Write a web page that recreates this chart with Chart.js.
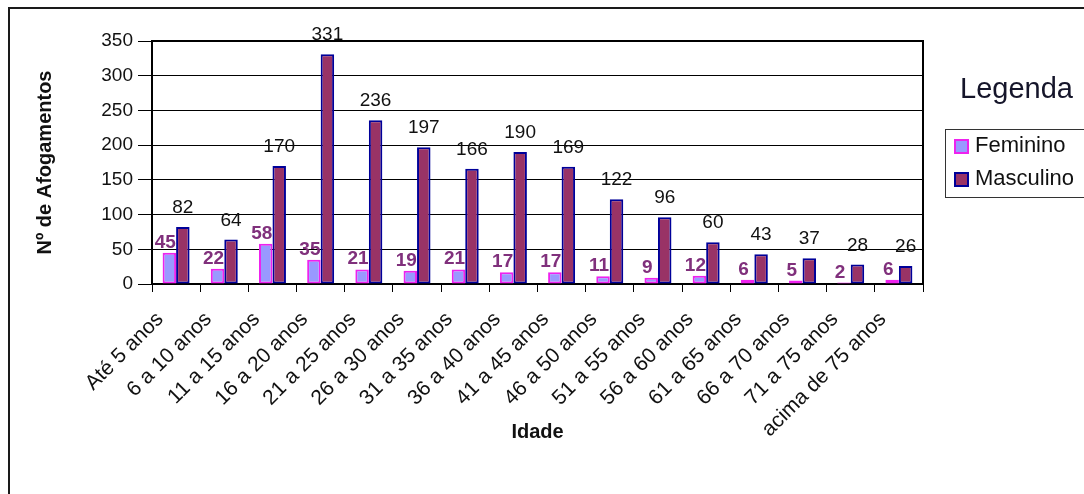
<!DOCTYPE html>
<html lang="pt">
<head>
<meta charset="utf-8">
<title>Afogamentos por faixa etária e sexo</title>
<script src="https://cdn.jsdelivr.net/npm/chart.js@4.4.1/dist/chart.umd.min.js"></script>
<style>
  html, body { margin: 0; padding: 0; background: #fff; }
  canvas { display: block; }
</style>
</head>
<body>
<canvas id="grafico" width="1084" height="494"></canvas>
<script>
// Faixas etárias (eixo X)
const faixasEtarias = [
  'Até 5 anos', '6 a 10 anos', '11 a 15 anos', '16 a 20 anos',
  '21 a 25 anos', '26 a 30 anos', '31 a 35 anos', '36 a 40 anos',
  '41 a 45 anos', '46 a 50 anos', '51 a 55 anos', '56 a 60 anos',
  '61 a 65 anos', '66 a 70 anos', '71 a 75 anos', 'acima de 75 anos'
];

// Número de afogamentos por sexo
const feminino  = [45, 22, 58, 35, 21, 19, 21, 17, 17, 11, 9, 12, 6, 5, 2, 6];
const masculino = [82, 64, 170, 331, 236, 197, 166, 190, 169, 122, 96, 60, 43, 37, 28, 26];

// Marcas do eixo Y
const marcasEixoY = [0, 50, 100, 150, 200, 250, 300, 350];

const FONTE = '"Liberation Sans", Arial, Helvetica, sans-serif';
Chart.defaults.font.family = FONTE;
Chart.defaults.color = '#111';

// Fundo branco, moldura externa e contorno da área de plotagem
const moldura = {
  id: 'moldura',
  beforeDraw(chart) {
    const { ctx, width, height } = chart;
    ctx.save();
    ctx.fillStyle = '#fff';
    ctx.fillRect(0, 0, width, height);
    ctx.strokeStyle = '#1a1a1a';
    ctx.lineWidth = 2;
    ctx.strokeRect(9, 8, width + 20, height + 20);
    ctx.restore();
  },
  beforeDatasetsDraw(chart) {
    const { ctx, chartArea: a } = chart;
    ctx.save();
    ctx.strokeStyle = '#000';
    ctx.lineWidth = 2;
    ctx.beginPath();
    ctx.moveTo(a.left, a.top);
    ctx.lineTo(a.right, a.top);
    ctx.lineTo(a.right, a.bottom);
    ctx.stroke();
    ctx.restore();
  }
};

// Valores escritos acima das barras
const rotulosValores = {
  id: 'rotulosValores',
  afterDatasetsDraw(chart) {
    const { ctx } = chart;
    ctx.save();
    ctx.textAlign = 'center';
    ctx.textBaseline = 'alphabetic';
    chart.data.datasets.forEach((ds, i) => {
      const meta = chart.getDatasetMeta(i);
      const fem = i === 0;
      ctx.font = (fem ? 'bold ' : '') + '19px ' + FONTE;
      ctx.fillStyle = fem ? '#80307c' : '#111';
      meta.data.forEach((barra, j) => {
        const x = barra.x + (fem ? -4 : 0);
        const y = barra.y - (fem ? 5 : 14);
        ctx.fillText(String(ds.data[j]), x, y);
      });
    });
    ctx.restore();
  }
};

// Legenda com título e caixa à direita
const legendaLateral = {
  id: 'legendaLateral',
  afterDraw(chart) {
    const { ctx } = chart;
    ctx.save();
    ctx.fillStyle = '#15152a';
    ctx.font = '29px ' + FONTE;
    ctx.textAlign = 'left';
    ctx.textBaseline = 'alphabetic';
    ctx.fillText('Legenda', 960, 98);

    ctx.strokeStyle = '#333';
    ctx.lineWidth = 1;
    ctx.strokeRect(945.5, 129.5, 200, 68);

    const linhas = [146, 179];
    chart.data.datasets.forEach((ds, i) => {
      const yc = linhas[i];
      ctx.fillStyle = ds.backgroundColor;
      ctx.fillRect(955, yc - 6, 13, 13);
      ctx.strokeStyle = ds.borderColor;
      ctx.lineWidth = 2;
      ctx.strokeRect(955, yc - 6, 13, 13);
      ctx.fillStyle = '#111';
      ctx.font = '22px ' + FONTE;
      ctx.textBaseline = 'middle';
      ctx.fillText(ds.label, 975, yc);
    });
    ctx.restore();
  }
};

new Chart(document.getElementById('grafico'), {
  type: 'bar',
  data: {
    labels: faixasEtarias,
    datasets: [
      {
        label: 'Feminino',
        data: feminino,
        backgroundColor: '#9999ff',
        borderColor: '#ee22ee',
        borderWidth: 2,
        borderSkipped: false
      },
      {
        label: 'Masculino',
        data: masculino,
        backgroundColor: '#993366',
        borderColor: '#000099',
        borderWidth: 2,
        borderSkipped: false
      }
    ]
  },
  options: {
    responsive: false,
    animation: false,
    devicePixelRatio: 1,
    categoryPercentage: 0.56,
    barPercentage: 1,
    layout: { padding: { left: 33, right: 161, top: 41, bottom: 50 } },
    plugins: {
      legend: { display: false },
      title: { display: false },
      tooltip: { enabled: false }
    },
    scales: {
      x: {
        offset: true,
        grid: {
          offset: true,
          drawOnChartArea: false,
          drawTicks: true,
          tickLength: 8,
          color: '#000',
          lineWidth: 1
        },
        border: { display: true, color: '#000', width: 2 },
        ticks: {
          autoSkip: false,
          minRotation: 45,
          maxRotation: 45,
          labelOffset: -16,
          padding: 15,
          color: '#111',
          font: { size: 21 }
        },
        title: {
          display: true,
          text: 'Idade',
          color: '#111',
          padding: 0,
          font: { size: 20, weight: 'bold' }
        },
        afterFit(scale) { scale.height = 160; }
      },
      y: {
        min: 0,
        max: 350,
        afterBuildTicks(scale) {
          scale.ticks = marcasEixoY.map(v => ({ value: v }));
        },
        grid: {
          color: '#000',
          lineWidth: 1,
          drawTicks: true,
          tickLength: 14
        },
        border: { display: true, color: '#000', width: 2 },
        ticks: {
          padding: 5,
          color: '#111',
          font: { size: 19 }
        },
        title: {
          display: true,
          text: 'Nº de Afogamentos',
          color: '#111',
          padding: 0,
          font: { size: 20, weight: 'bold' }
        },
        afterFit(scale) { scale.width = 119; }
      }
    }
  },
  plugins: [moldura, rotulosValores, legendaLateral]
});
</script>
</body>
</html>
